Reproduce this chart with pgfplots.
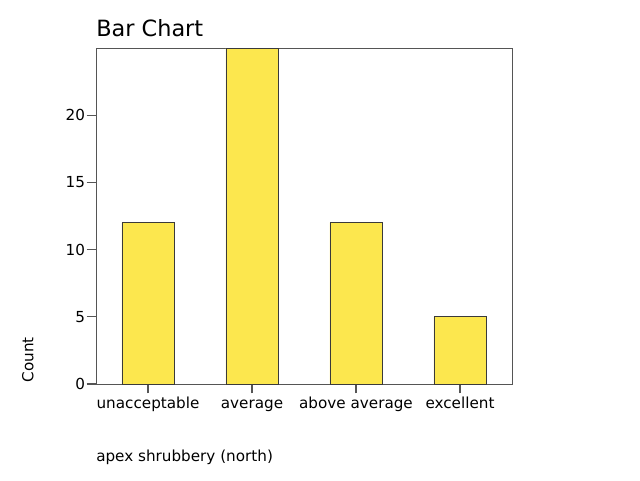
\documentclass[border=0pt]{standalone}
\usepackage{pgfplots}
\pgfplotsset{compat=1.18}
\usepackage{fontspec}
\setmainfont{DejaVu Sans}
\definecolor{baryellow}{HTML}{FCE74E}
\definecolor{edgegray}{HTML}{3A3A3A}
\definecolor{axgray}{HTML}{555555}
\begin{document}
\begin{tikzpicture}
\useasboundingbox (-72pt,-72pt) rectangle (408pt,288pt);
\begin{axis}[
  at={(0pt,0pt)}, anchor=south west,
  scale only axis, width=312pt, height=252pt,
  xmin=-0.5, xmax=3.5, ymin=0, ymax=25,
  xtick=data,
  xticklabels={unacceptable,average,above average,excellent},
  ytick={0,5,10,15,20},
  tick align=outside, tick pos=left,
  major tick length=7pt,
  axis line style={draw=axgray, line width=0.7pt},
  tick style={draw=axgray, line width=0.8pt},
  tick label style={font=\fontsize{11.4pt}{13pt}\selectfont},
  xticklabel style={text height=8.5pt, text depth=2.5pt, inner sep=1pt, yshift=-1.5pt},
  yticklabel style={inner sep=1pt},
  /pgf/number format/assume math mode=true,
  ybar, bar width=39pt,
]
\addplot[fill=baryellow, draw=edgegray, line width=0.6pt] coordinates {(0,12) (1,25) (2,12) (3,5)};
\end{axis}
\node[anchor=base west, inner sep=0pt, font=\fontsize{16.8pt}{19pt}\selectfont] at (0pt,261pt) {Bar Chart};
\node[anchor=base west, inner sep=0pt, font=\fontsize{11.4pt}{13pt}\selectfont] at (0pt,-58pt) {apex shrubbery (north)};
\node[anchor=base west, rotate=90, inner sep=0pt, font=\fontsize{11.4pt}{13pt}\selectfont] at (-47pt,1pt) {Count};
\end{tikzpicture}
\end{document}
